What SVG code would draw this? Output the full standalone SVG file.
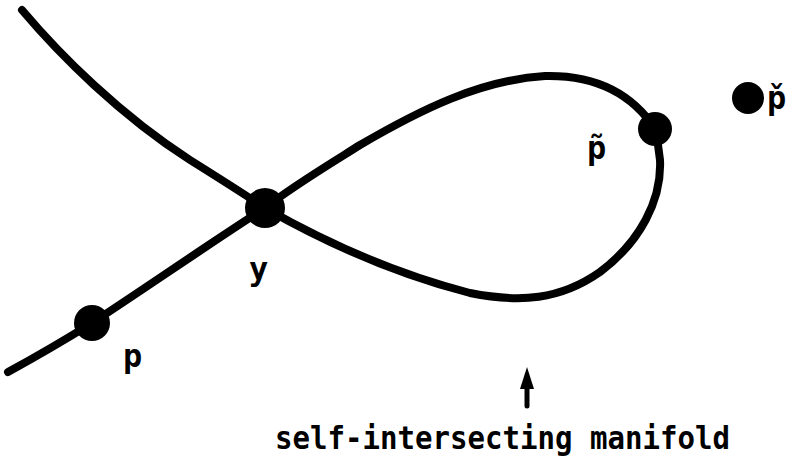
<svg xmlns="http://www.w3.org/2000/svg" width="796" height="464" viewBox="0 0 796 464">
<style>
.curve{fill:none;stroke:#000;stroke-width:8;stroke-linecap:round;stroke-linejoin:round}
.dot{fill:#000}
.lbl{font-family:"DejaVu Sans Mono","Liberation Mono",monospace;font-size:32px;fill:#000;font-weight:bold}
</style>
<rect width="796" height="464" fill="#fff"/>
<g id="connectors">
<path class="curve" d="M22,10 C60,55 120,115 190,160 C230,185 250,198 265,208 C330,245 400,275 470,293 C520,303 560,300 600,272 C640,242 662,200 660,160 L656,130"/>
<path class="curve" d="M656,130 C630,90 590,75 545,76 C480,80 420,110 360,145 C320,170 290,188 265,208 C200,250 150,285 92,323 C60,343 30,360 8,372"/>
<line x1="527" y1="406" x2="527" y2="384" stroke="#000" stroke-width="5" stroke-linecap="round"/>
<polygon points="527,367 534,389 520,389" fill="#000"/>
</g>
<g id="node-y"><ellipse class="dot" cx="265" cy="208" rx="20" ry="20"/><text class="lbl" x="249" y="280">y</text></g>
<g id="node-p"><circle class="dot" cx="92" cy="323" r="18"/><text class="lbl" x="123" y="367">p</text></g>
<g id="node-ptilde"><circle class="dot" cx="655" cy="129" r="17"/><text class="lbl" x="587" y="159">p̃</text></g>
<g id="node-pcheck"><circle class="dot" cx="748" cy="98" r="16"/><text class="lbl" x="767" y="109">p̌</text></g>
<g id="caption"><text class="lbl" x="275" y="449" textLength="455" lengthAdjust="spacingAndGlyphs">self-intersecting manifold</text></g>
</svg>
